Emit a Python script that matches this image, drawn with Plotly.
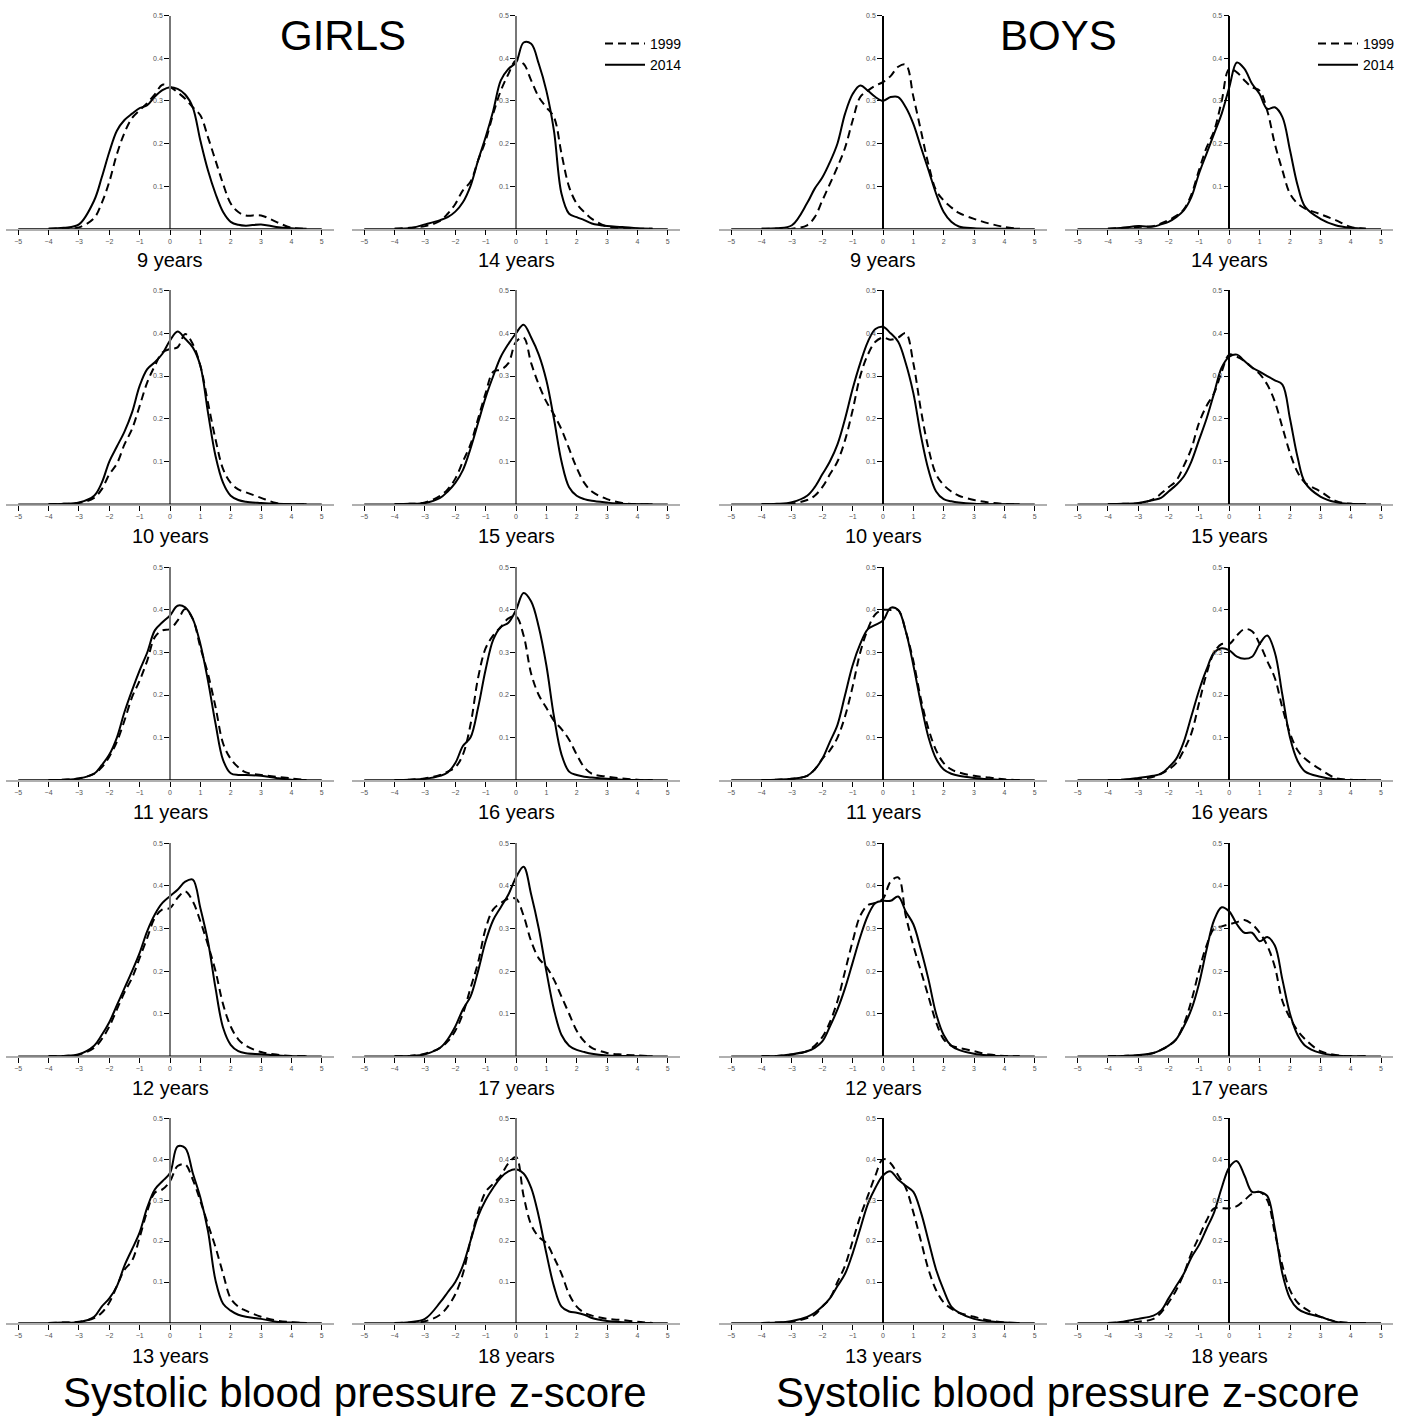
import plotly.graph_objects as go

W, H = 1403, 1416

# z-score grid the densities were read on
GRID = [-4, -3.5, -3, -2.5, -2.25, -2, -1.75, -1.5, -1.25, -1, -0.75, -0.5, -0.25, 0,
        0.25, 0.5, 0.75, 1, 1.25, 1.5, 1.75, 2, 2.25, 2.5, 3, 3.5, 4, 4.5]

AGES_LEFT = [9, 10, 11, 12, 13]
AGES_RIGHT = [14, 15, 16, 17, 18]
X_TICKS = [-5, -4, -3, -2, -1, 0, 1, 2, 3, 4, 5]
Y_TICKS = [0.1, 0.2, 0.3, 0.4, 0.5]
YEARS = ["1999", "2014"]

GIRLS_1999 = {
    9: [0, 0.001, 0.003, 0.025, 0.06, 0.11, 0.175, 0.225, 0.26, 0.278, 0.295, 0.315, 0.338, 0.333, 0.32, 0.305, 0.285, 0.266, 0.215, 0.16, 0.105, 0.059, 0.039, 0.031, 0.031, 0.016, 0.002, 0],
    10: [0, 0.001, 0.003, 0.015, 0.035, 0.07, 0.095, 0.14, 0.176, 0.23, 0.285, 0.324, 0.355, 0.363, 0.367, 0.398, 0.375, 0.324, 0.238, 0.152, 0.082, 0.05, 0.035, 0.028, 0.015, 0.003, 0, 0],
    11: [0, 0.001, 0.004, 0.015, 0.03, 0.055, 0.09, 0.14, 0.195, 0.234, 0.281, 0.336, 0.352, 0.355, 0.375, 0.402, 0.379, 0.312, 0.25, 0.172, 0.086, 0.05, 0.03, 0.018, 0.012, 0.008, 0.004, 0],
    12: [0, 0.001, 0.004, 0.02, 0.04, 0.07, 0.11, 0.15, 0.184, 0.231, 0.278, 0.325, 0.345, 0.348, 0.372, 0.387, 0.364, 0.317, 0.262, 0.2, 0.122, 0.07, 0.04, 0.025, 0.01, 0.004, 0.001, 0],
    13: [0, 0.001, 0.003, 0.012, 0.025, 0.05, 0.09, 0.13, 0.152, 0.209, 0.273, 0.318, 0.326, 0.346, 0.383, 0.387, 0.35, 0.298, 0.241, 0.185, 0.12, 0.06, 0.04, 0.03, 0.015, 0.006, 0.002, 0],
    14: [0, 0.002, 0.006, 0.018, 0.035, 0.058, 0.09, 0.11, 0.16, 0.207, 0.27, 0.324, 0.363, 0.395, 0.387, 0.348, 0.309, 0.285, 0.262, 0.176, 0.098, 0.059, 0.039, 0.023, 0.005, 0.002, 0, 0],
    15: [0, 0.001, 0.004, 0.02, 0.035, 0.06, 0.1, 0.14, 0.2, 0.26, 0.31, 0.315, 0.33, 0.38, 0.39, 0.33, 0.28, 0.24, 0.21, 0.175, 0.13, 0.085, 0.05, 0.03, 0.012, 0.003, 0, 0],
    16: [0, 0.001, 0.004, 0.012, 0.02, 0.03, 0.06, 0.13, 0.24, 0.31, 0.34, 0.36, 0.38, 0.385, 0.34, 0.25, 0.2, 0.17, 0.14, 0.12, 0.095, 0.06, 0.03, 0.015, 0.008, 0.004, 0.001, 0],
    17: [0, 0.001, 0.006, 0.02, 0.035, 0.06, 0.1, 0.16, 0.22, 0.3, 0.345, 0.36, 0.37, 0.37, 0.33, 0.27, 0.23, 0.21, 0.18, 0.14, 0.1, 0.06, 0.035, 0.02, 0.008, 0.004, 0.002, 0],
    18: [0, 0.001, 0.004, 0.02, 0.04, 0.07, 0.12, 0.2, 0.27, 0.32, 0.34, 0.36, 0.39, 0.405, 0.31, 0.24, 0.21, 0.195, 0.16, 0.12, 0.07, 0.04, 0.025, 0.018, 0.01, 0.007, 0.003, 0],
}
GIRLS_2014 = {
    9: [0, 0.002, 0.01, 0.066, 0.12, 0.18, 0.23, 0.255, 0.27, 0.283, 0.29, 0.31, 0.325, 0.332, 0.328, 0.315, 0.285, 0.207, 0.137, 0.082, 0.039, 0.016, 0.009, 0.007, 0.01, 0.004, 0.001, 0],
    10: [0, 0.001, 0.004, 0.02, 0.05, 0.1, 0.135, 0.17, 0.215, 0.277, 0.316, 0.332, 0.352, 0.383, 0.404, 0.387, 0.367, 0.324, 0.215, 0.113, 0.05, 0.02, 0.01, 0.006, 0.003, 0.001, 0, 0],
    11: [0, 0.001, 0.004, 0.015, 0.035, 0.06, 0.1, 0.16, 0.211, 0.258, 0.3, 0.352, 0.371, 0.387, 0.41, 0.406, 0.379, 0.32, 0.234, 0.133, 0.047, 0.016, 0.012, 0.012, 0.01, 0.005, 0.001, 0],
    12: [0, 0.001, 0.005, 0.025, 0.05, 0.08, 0.12, 0.16, 0.2, 0.243, 0.294, 0.333, 0.36, 0.376, 0.391, 0.41, 0.415, 0.348, 0.27, 0.16, 0.067, 0.027, 0.012, 0.007, 0.005, 0.002, 0, 0],
    13: [0, 0.001, 0.002, 0.015, 0.04, 0.06, 0.09, 0.14, 0.18, 0.221, 0.282, 0.326, 0.346, 0.366, 0.431, 0.427, 0.366, 0.306, 0.225, 0.104, 0.047, 0.03, 0.02, 0.015, 0.01, 0.003, 0.001, 0],
    14: [0, 0.001, 0.01, 0.02, 0.027, 0.04, 0.062, 0.1, 0.16, 0.215, 0.277, 0.348, 0.375, 0.39, 0.437, 0.434, 0.387, 0.324, 0.23, 0.082, 0.035, 0.027, 0.02, 0.012, 0.006, 0.004, 0.001, 0],
    15: [0, 0.001, 0.003, 0.015, 0.03, 0.05, 0.08, 0.13, 0.19, 0.25, 0.3, 0.345, 0.375, 0.4, 0.42, 0.39, 0.35, 0.29, 0.2, 0.1, 0.04, 0.02, 0.012, 0.008, 0.004, 0.001, 0, 0],
    16: [0, 0.001, 0.003, 0.01, 0.018, 0.04, 0.08, 0.1, 0.17, 0.26, 0.33, 0.36, 0.37, 0.4, 0.44, 0.42, 0.36, 0.27, 0.15, 0.06, 0.02, 0.012, 0.008, 0.006, 0.003, 0.001, 0, 0],
    17: [0, 0.001, 0.005, 0.02, 0.04, 0.07, 0.11, 0.14, 0.2, 0.27, 0.32, 0.35, 0.38, 0.42, 0.445, 0.38, 0.3, 0.2, 0.11, 0.05, 0.025, 0.015, 0.01, 0.006, 0.002, 0.001, 0, 0],
    18: [0, 0.002, 0.01, 0.05, 0.075, 0.1, 0.14, 0.2, 0.26, 0.3, 0.33, 0.355, 0.37, 0.375, 0.365, 0.33, 0.26, 0.17, 0.09, 0.04, 0.028, 0.025, 0.02, 0.012, 0.005, 0.002, 0, 0],
}
BOYS_1999 = {
    9: [0, 0, 0, 0.008, 0.027, 0.066, 0.105, 0.145, 0.19, 0.254, 0.309, 0.324, 0.336, 0.344, 0.358, 0.38, 0.385, 0.31, 0.23, 0.15, 0.09, 0.066, 0.05, 0.037, 0.023, 0.012, 0.004, 0],
    10: [0, 0, 0.002, 0.01, 0.02, 0.04, 0.07, 0.1, 0.15, 0.22, 0.3, 0.35, 0.38, 0.39, 0.385, 0.39, 0.4, 0.33, 0.22, 0.13, 0.07, 0.045, 0.03, 0.02, 0.01, 0.004, 0.001, 0],
    11: [0, 0.001, 0.003, 0.01, 0.025, 0.05, 0.07, 0.1, 0.15, 0.22, 0.3, 0.355, 0.39, 0.4, 0.4, 0.4, 0.35, 0.28, 0.19, 0.12, 0.07, 0.04, 0.025, 0.018, 0.01, 0.006, 0.002, 0],
    12: [0, 0.001, 0.004, 0.012, 0.025, 0.045, 0.08, 0.13, 0.2, 0.27, 0.33, 0.355, 0.36, 0.37, 0.41, 0.42, 0.33, 0.26, 0.2, 0.14, 0.08, 0.04, 0.025, 0.02, 0.012, 0.004, 0.001, 0],
    13: [0, 0.001, 0.003, 0.012, 0.02, 0.04, 0.06, 0.1, 0.14, 0.2, 0.26, 0.31, 0.36, 0.4, 0.39, 0.36, 0.33, 0.27, 0.2, 0.13, 0.08, 0.05, 0.035, 0.025, 0.015, 0.006, 0.001, 0],
    14: [0, 0.002, 0.004, 0.006, 0.012, 0.02, 0.03, 0.045, 0.08, 0.137, 0.19, 0.23, 0.3, 0.375, 0.367, 0.348, 0.332, 0.324, 0.277, 0.199, 0.137, 0.082, 0.059, 0.047, 0.034, 0.02, 0.004, 0],
    15: [0, 0.001, 0.002, 0.012, 0.025, 0.04, 0.055, 0.09, 0.13, 0.19, 0.23, 0.26, 0.31, 0.35, 0.345, 0.335, 0.32, 0.305, 0.28, 0.24, 0.18, 0.12, 0.075, 0.05, 0.03, 0.008, 0.001, 0],
    16: [0, 0.001, 0.003, 0.008, 0.015, 0.025, 0.04, 0.07, 0.11, 0.18, 0.25, 0.3, 0.32, 0.32, 0.34, 0.355, 0.35, 0.32, 0.28, 0.24, 0.17, 0.11, 0.07, 0.05, 0.025, 0.005, 0.001, 0],
    17: [0, 0.001, 0.002, 0.008, 0.015, 0.025, 0.04, 0.075, 0.13, 0.2, 0.26, 0.3, 0.305, 0.31, 0.315, 0.32, 0.31, 0.29, 0.26, 0.21, 0.13, 0.09, 0.06, 0.04, 0.012, 0.003, 0, 0],
    18: [0, 0.001, 0.003, 0.01, 0.025, 0.05, 0.08, 0.12, 0.17, 0.21, 0.25, 0.28, 0.28, 0.28, 0.285, 0.3, 0.315, 0.32, 0.3, 0.22, 0.14, 0.08, 0.05, 0.035, 0.015, 0.004, 0, 0],
}
BOYS_2014 = {
    9: [0, 0.001, 0.008, 0.06, 0.094, 0.12, 0.156, 0.2, 0.27, 0.316, 0.336, 0.324, 0.309, 0.3, 0.309, 0.309, 0.285, 0.246, 0.191, 0.137, 0.082, 0.039, 0.016, 0.005, 0.001, 0, 0, 0],
    10: [0, 0.001, 0.005, 0.02, 0.04, 0.07, 0.1, 0.14, 0.2, 0.27, 0.33, 0.38, 0.41, 0.415, 0.4, 0.38, 0.33, 0.26, 0.16, 0.08, 0.03, 0.012, 0.007, 0.004, 0.001, 0, 0, 0],
    11: [0, 0.001, 0.003, 0.01, 0.025, 0.05, 0.09, 0.13, 0.2, 0.27, 0.32, 0.355, 0.365, 0.375, 0.405, 0.4, 0.35, 0.27, 0.18, 0.1, 0.05, 0.025, 0.015, 0.01, 0.005, 0.002, 0, 0],
    12: [0, 0.001, 0.005, 0.012, 0.02, 0.035, 0.07, 0.11, 0.16, 0.22, 0.28, 0.33, 0.36, 0.365, 0.365, 0.375, 0.34, 0.31, 0.25, 0.18, 0.1, 0.05, 0.025, 0.015, 0.006, 0.002, 0, 0],
    13: [0, 0.001, 0.005, 0.015, 0.025, 0.04, 0.06, 0.09, 0.12, 0.17, 0.23, 0.29, 0.33, 0.36, 0.37, 0.35, 0.335, 0.32, 0.27, 0.2, 0.13, 0.08, 0.04, 0.025, 0.01, 0.004, 0.001, 0],
    14: [0, 0.002, 0.006, 0.005, 0.01, 0.016, 0.027, 0.043, 0.074, 0.129, 0.176, 0.223, 0.27, 0.332, 0.39, 0.375, 0.34, 0.316, 0.281, 0.285, 0.262, 0.184, 0.102, 0.051, 0.023, 0.008, 0.002, 0],
    15: [0, 0.001, 0.003, 0.01, 0.015, 0.03, 0.045, 0.065, 0.1, 0.15, 0.2, 0.26, 0.32, 0.345, 0.35, 0.335, 0.32, 0.31, 0.3, 0.29, 0.28, 0.2, 0.11, 0.05, 0.018, 0.005, 0.001, 0],
    16: [0, 0.001, 0.005, 0.01, 0.015, 0.03, 0.05, 0.09, 0.15, 0.21, 0.26, 0.3, 0.31, 0.305, 0.29, 0.285, 0.29, 0.32, 0.34, 0.3, 0.2, 0.1, 0.045, 0.02, 0.008, 0.002, 0, 0],
    17: [0, 0.001, 0.003, 0.008, 0.015, 0.025, 0.04, 0.07, 0.11, 0.17, 0.25, 0.32, 0.35, 0.34, 0.31, 0.29, 0.29, 0.27, 0.28, 0.26, 0.18, 0.1, 0.05, 0.025, 0.008, 0.002, 0, 0],
    18: [0, 0.003, 0.01, 0.018, 0.03, 0.06, 0.09, 0.12, 0.16, 0.19, 0.23, 0.27, 0.33, 0.38, 0.395, 0.36, 0.32, 0.32, 0.31, 0.23, 0.12, 0.06, 0.035, 0.025, 0.015, 0.003, 0, 0],
}

# panel geometry in page pixels
COL_ZERO = [170, 516, 883, 1229.3]        # x pixel of z = 0 in each column
UNIT = 30.35                              # pixels per z unit
XR = 5.4                                  # half width of x range
ROW_TOP = [11.7, 287.3, 565, 841.7, 1117.3]
ROW_BASE = [225.3, 501.7, 778.3, 1055.3, 1322.7]
ROW_LABEL = [257, 534, 810, 1087, 1356]
FONT = "Liberation Sans, Arial, sans-serif"

columns = [
    ("girls", AGES_LEFT, GIRLS_1999, GIRLS_2014),
    ("girls", AGES_RIGHT, GIRLS_1999, GIRLS_2014),
    ("boys", AGES_LEFT, BOYS_1999, BOYS_2014),
    ("boys", AGES_RIGHT, BOYS_1999, BOYS_2014),
]

fig = go.Figure()
layout = {}
shapes = []
annotations = []

for c, (sex, ages, d1999, d2014) in enumerate(columns):
    x0 = COL_ZERO[c]
    for r, age in enumerate(ages):
        k = c * 5 + r + 1
        xa, ya = "x%d" % k, "y%d" % k
        layout["xaxis%d" % k] = dict(
            domain=[(x0 - XR * UNIT) / W, (x0 + XR * UNIT) / W],
            range=[-XR, XR], anchor=ya, tickvals=X_TICKS,
            ticks="outside", ticklen=5, tickwidth=1, tickcolor="black",
            tickfont=dict(size=7, color="#555", family=FONT),
            showline=True, linecolor="#b0b0b0", linewidth=1.5,
            showgrid=False, zeroline=False, fixedrange=True,
        )
        layout["yaxis%d" % k] = dict(
            domain=[1 - ROW_BASE[r] / H, 1 - ROW_TOP[r] / H],
            range=[0, 0.5], anchor="free", position=x0 / W,
            tickvals=Y_TICKS, ticktext=["%.1f" % v for v in Y_TICKS],
            ticks="outside", ticklen=5, tickwidth=1, tickcolor="black",
            tickfont=dict(size=7, color="#555", family=FONT),
            showline=True, linewidth=1.5,
            linecolor="#777" if sex == "girls" else "black",
            showgrid=False, zeroline=False, fixedrange=True,
        )
        # black part of the axis between -5 and 5
        shapes.append(dict(type="line", xref=xa, yref=ya, x0=X_TICKS[0], x1=X_TICKS[-1],
                           y0=0, y1=0, line=dict(color="black", width=1.5)))

        show = (r == 0 and c in (1, 3))
        leg = "legend" if c == 1 else "legend2"
        for year, data, dash in ((YEARS[0], d1999, "8px,5px"), (YEARS[1], d2014, "solid")):
            fig.add_trace(go.Scatter(
                x=GRID, y=data[age], xaxis=xa, yaxis=ya, mode="lines", name=year,
                line=dict(color="black", width=2, dash=dash, shape="spline"),
                showlegend=show, legend=leg, legendgroup=year, hoverinfo="skip",
            ))

        annotations.append(dict(text="%d years" % age, x=x0 / W, y=1 - ROW_LABEL[r] / H,
                                xref="paper", yref="paper", showarrow=False,
                                xanchor="center", yanchor="middle",
                                font=dict(size=20, color="black", family=FONT)))

for text, px, py in (("GIRLS", 343, 32), ("BOYS", 1058, 32),
                     ("Systolic blood pressure z-score", 355, 1392),
                     ("Systolic blood pressure z-score", 1068, 1392)):
    annotations.append(dict(text=text, x=px / W, y=1 - py / H, xref="paper", yref="paper",
                            showarrow=False, xanchor="center", yanchor="middle",
                            font=dict(size=42, color="black", family=FONT)))

legend_style = dict(xanchor="left", yanchor="top", bgcolor="rgba(0,0,0,0)",
                    font=dict(size=14, color="black", family=FONT),
                    tracegroupgap=4, traceorder="normal", itemwidth=40)

fig.update_layout(
    width=W, height=H, margin=dict(l=0, r=0, t=0, b=0),
    paper_bgcolor="white", plot_bgcolor="white",
    shapes=shapes, annotations=annotations,
    legend=dict(x=600 / W, y=1 - 24 / H, **legend_style),
    legend2=dict(x=1313 / W, y=1 - 24 / H, **legend_style),
    **layout,
)

# the page's default body margin would push the figure off its pixel grid
fig.write_html("out.html", config={"displayModeBar": False},
               post_script="document.body.style.margin='0';document.body.style.overflow='hidden';")
